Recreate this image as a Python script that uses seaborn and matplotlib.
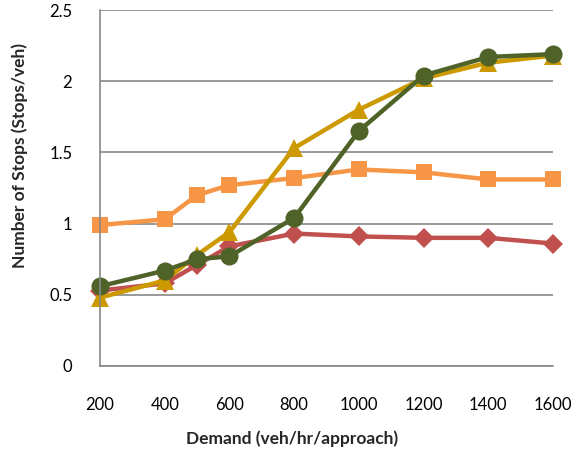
import matplotlib
matplotlib.use("Agg")
import matplotlib.pyplot as plt
import seaborn as sns
import pandas as pd

demand = [200, 400, 500, 600, 800, 1000, 1200, 1400, 1600]
stops_square = [0.99, 1.03, 1.20, 1.27, 1.32, 1.38, 1.36, 1.31, 1.31]
stops_diamond = [0.53, 0.58, 0.71, 0.84, 0.93, 0.91, 0.90, 0.90, 0.86]
stops_triangle = [0.48, 0.60, 0.78, 0.94, 1.53, 1.80, 2.02, 2.13, 2.18]
stops_circle = [0.56, 0.67, 0.75, 0.77, 1.04, 1.65, 2.04, 2.17, 2.19]
x_ticks = [200, 400, 600, 800, 1000, 1200, 1400, 1600]
y_ticks = [0, 0.5, 1, 1.5, 2, 2.5]
y_tick_labels = ["0", "0.5", "1", "1.5", "2", "2.5"]

sns.set_theme(style="white")
plt.rcParams["font.family"] = ["Lato", "DejaVu Sans"]

fig = plt.figure(figsize=(5.83, 4.59), dpi=100)
ax = fig.add_axes([100 / 583, 93 / 459, 453 / 583, 356 / 459])

series = [
    (stops_square, "#F79646", "s", 12),
    (stops_diamond, "#C0504D", "D", 10),
    (stops_triangle, "#CC9900", "^", 13),
    (stops_circle, "#4F6228", "o", 13),
]
for vals, color, marker, msize in series:
    df = pd.DataFrame({"Demand": demand, "Stops": vals})
    sns.lineplot(data=df, x="Demand", y="Stops", ax=ax, color=color,
                 linewidth=3.2, marker=marker, markersize=msize,
                 markeredgewidth=0, markeredgecolor=color)

ax.set_xlim(200, 1600)
ax.set_ylim(0, 2.5)
ax.set_xticks(x_ticks)
ax.set_yticks(y_ticks)
ax.set_yticklabels(y_tick_labels)
ax.yaxis.grid(True, color="#888888", linewidth=1.2)
ax.xaxis.grid(False)
for side in ["top", "right"]:
    ax.spines[side].set_visible(False)
for side in ["left", "bottom"]:
    ax.spines[side].set_color("#888888")
    ax.spines[side].set_linewidth(1.2)
ax.tick_params(axis="both", length=0, labelsize=12, colors="black")
ax.tick_params(axis="x", pad=22)
ax.tick_params(axis="y", pad=20)
ax.set_xlabel("Demand (veh/hr/approach)", fontsize=12.5, fontweight="bold")
ax.set_ylabel("Number of Stops (Stops/veh)", fontsize=12.5, fontweight="bold")
ax.xaxis.set_label_coords(0.424, -0.18)
ax.yaxis.set_label_coords(-0.158, 0.59)
for line in ax.get_lines():
    line.set_clip_on(False)

fig.savefig("out.png", dpi=100)
